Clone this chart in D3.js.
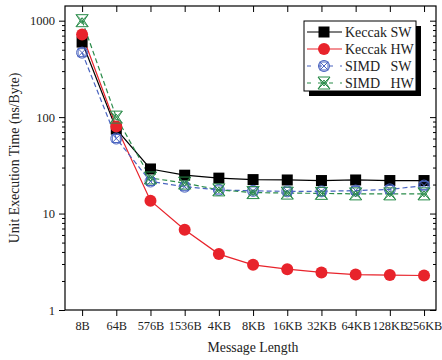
<!DOCTYPE html>
<html>
<head>
<meta charset="utf-8">
<script src="https://cdn.jsdelivr.net/npm/d3@7"></script>
<style>
  body { margin: 0; background: #fff; }
  text { font-family: "Liberation Serif", "Times New Roman", serif; fill: #222; }
</style>
</head>
<body>
<script>
var categories = ["8B", "64B", "576B", "1536B", "4KB", "8KB", "16KB", "32KB", "64KB", "128KB", "256KB"];
var keccakSW = [600, 75, 29, 25, 23.3, 22.5, 22.3, 22, 22.3, 22, 22];
var keccakHW = [720, 80, 13.6, 6.8, 3.8, 2.94, 2.65, 2.45, 2.33, 2.3, 2.28];
var simdSW = [466, 60, 21.5, 19, 17.6, 17.2, 17, 17, 17.3, 17.8, 19.5];
var simdHW = [1000, 100, 23.4, 20.7, 17.6, 16.5, 16.3, 16.2, 16, 16, 16];
var yTicks = [1, 10, 100, 1000];

var w = 442, h = 360;
var plotL = 65, plotR = 436, plotT = 6, plotB = 310;

var svg = d3.select("body").append("svg")
  .attr("width", w)
  .attr("height", h);

var x = d3.scaleLinear().domain([-0.5, 10.35]).range([plotL, plotR]);
var y = d3.scaleLog().domain([1, 1420]).range([plotB, plotT]);

// minor ticks for the log axis
var minor = [];
for (var d = 1; d <= 1000; d *= 10) {
  for (var k = 2; k <= 9; k++) {
    if (d * k < 1420) minor.push(d * k);
  }
}

// left axis
svg.append("g")
  .attr("transform", "translate(" + plotL + ",0)")
  .call(d3.axisLeft(y).tickValues(minor).tickSize(3).tickFormat(""))
  .call(function(g) { g.select(".domain").remove(); });
svg.append("g")
  .attr("transform", "translate(" + plotL + ",0)")
  .call(d3.axisLeft(y).tickValues(yTicks).tickSize(6).tickPadding(4).tickFormat(d3.format("d")))
  .call(function(g) {
    g.select(".domain").remove();
    g.selectAll("text").attr("font-size", "12.5px");
  });

// right axis (inner ticks)
svg.append("g")
  .attr("transform", "translate(" + plotR + ",0)")
  .call(d3.axisLeft(y).tickValues(minor).tickSize(3).tickFormat(""))
  .call(function(g) { g.select(".domain").remove(); });
svg.append("g")
  .attr("transform", "translate(" + plotR + ",0)")
  .call(d3.axisLeft(y).tickValues(yTicks).tickSize(6).tickFormat(""))
  .call(function(g) { g.select(".domain").remove(); });

// bottom axis
svg.append("g")
  .attr("transform", "translate(0," + plotB + ")")
  .call(d3.axisBottom(x).tickValues(d3.range(categories.length)).tickSize(6).tickPadding(5)
    .tickFormat(function(i) { return categories[i]; }))
  .call(function(g) {
    g.select(".domain").remove();
    g.selectAll("text").attr("font-size", "12.3px");
  });

// top axis (inner ticks)
svg.append("g")
  .attr("transform", "translate(0," + plotT + ")")
  .call(d3.axisBottom(x).tickValues(d3.range(categories.length)).tickSize(6).tickFormat(""))
  .call(function(g) { g.select(".domain").remove(); });

svg.append("rect")
  .attr("x", plotL).attr("y", plotT)
  .attr("width", plotR - plotL).attr("height", plotB - plotT)
  .attr("fill", "none").attr("stroke", "#000").attr("stroke-width", 1.2);

// titles
svg.append("text")
  .attr("x", 253).attr("y", 352)
  .attr("text-anchor", "middle").attr("font-size", "13.8px")
  .text("Message Length");
svg.append("text")
  .attr("transform", "translate(19," + 158 + ") rotate(-90)")
  .attr("text-anchor", "middle").attr("font-size", "13.8px")
  .text("Unit Execution Time (ns/Byte)");

var series = [
  { name: "Keccak SW", values: keccakSW, color: "#000", dash: null, mark: "square" },
  { name: "Keccak HW", values: keccakHW, color: "#e8232b", dash: null, mark: "circle" },
  { name: "SIMD   SW", values: simdSW, color: "#4a64c0", dash: "5,3", mark: "xcircle" },
  { name: "SIMD   HW", values: simdHW, color: "#2a8c4a", dash: "5,3", mark: "hourglass" }
];

var line = d3.line()
  .x(function(d, i) { return x(i); })
  .y(function(d) { return y(d); });

function drawMarker(g, s) {
  if (s.mark == "square") {
    g.append("rect").attr("x", -5.5).attr("y", -5.5).attr("width", 11).attr("height", 11)
      .attr("fill", "#000");
  } else if (s.mark == "circle") {
    g.append("circle").attr("r", 6).attr("fill", s.color);
  } else if (s.mark == "xcircle") {
    g.append("circle").attr("r", 5.5).attr("fill", "none").attr("stroke", s.color).attr("stroke-width", 1);
    g.append("rect").attr("x", -4).attr("y", -4).attr("width", 8).attr("height", 8)
      .attr("fill", "none").attr("stroke", s.color).attr("stroke-width", 1);
    g.append("path").attr("d", "M-4,-4L4,4M-4,4L4,-4")
      .attr("stroke", s.color).attr("stroke-width", 1);
  } else {
    g.append("path").attr("d", "M-6,-6L6,-6L-6,6L6,6ZM-6,6L0,-3L6,6M-6,-6L0,3L6,-6")
      .attr("fill", "none").attr("stroke", s.color).attr("stroke-width", 1);
  }
}

series.forEach(function(s) {
  svg.append("path")
    .datum(s.values)
    .attr("d", line)
    .attr("fill", "none")
    .attr("stroke", s.color)
    .attr("stroke-width", 1.2)
    .attr("stroke-dasharray", s.dash);
});

series.forEach(function(s) {
  svg.selectAll(null)
    .data(s.values)
    .enter()
    .append("g")
    .attr("transform", function(d, i) { return "translate(" + x(i) + "," + y(d) + ")"; })
    .each(function() { drawMarker(d3.select(this), s); });
});

// legend
var lx = 304, ly = 21, lw = 112, lh = 70;
svg.append("rect").attr("x", lx + 5).attr("y", ly + 5).attr("width", lw).attr("height", lh).attr("fill", "#000");
svg.append("rect").attr("x", lx).attr("y", ly).attr("width", lw).attr("height", lh)
  .attr("fill", "#fff").attr("stroke", "#000").attr("stroke-width", 1);

series.forEach(function(s, i) {
  var yy = ly + 11 + i * 17;
  svg.append("line")
    .attr("x1", lx + 3).attr("x2", lx + 38)
    .attr("y1", yy).attr("y2", yy)
    .attr("stroke", s.color).attr("stroke-width", 1.2)
    .attr("stroke-dasharray", s.dash ? "4,7" : null);
  var g = svg.append("g").attr("transform", "translate(" + (lx + 20) + "," + yy + ")");
  drawMarker(g, s);
  svg.append("text")
    .attr("x", lx + 41).attr("y", yy + 4.5)
    .attr("font-size", "14px")
    .attr("xml:space", "preserve")
    .style("white-space", "pre")
    .text(s.name);
});
</script>
</body>
</html>
